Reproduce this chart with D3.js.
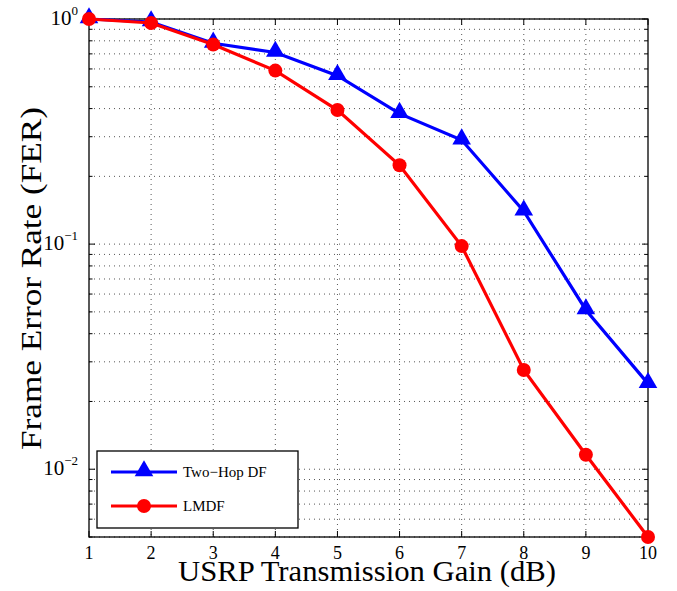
<!DOCTYPE html>
<html>
<head>
<meta charset="utf-8">
<script src="https://cdn.jsdelivr.net/npm/d3@7"></script>
<style>
  body { margin: 0; background: #fff; }
  svg { font-family: "Liberation Serif", "DejaVu Serif", serif; }
</style>
</head>
<body>
<svg id="chart" width="677" height="591"></svg>
<script>
// gain values in dB
const gains = [1, 2, 3, 4, 5, 6, 7, 8, 9, 10];
// frame error rate
const twoHopDF = [1.0, 0.97, 0.78, 0.71, 0.56, 0.38, 0.29, 0.140, 0.051, 0.024];
const lmdf = [1.0, 0.96, 0.77, 0.59, 0.394, 0.224, 0.098, 0.0276, 0.0116, 0.005];
const seriesNames = ["Two\u2212Hop DF", "LMDF"];
const yMajor = [0.01, 0.1, 1];
const yExp = ["\u22122", "\u22121", "0"];

const margin = {left: 89, top: 19, right: 29, bottom: 54};
const width = 677 - margin.left - margin.right;
const height = 591 - margin.top - margin.bottom;

const svg = d3.select("#chart");
const g = svg.append("g").attr("transform", `translate(${margin.left},${margin.top})`);

const x = d3.scaleLinear().domain([1, 10]).range([0, width]);
const y = d3.scaleLog().domain([0.005, 1]).range([height, 0]);

// minor log ticks
let minor = [];
for (let e = -3; e <= 0; e++) {
    for (let m = 1; m <= 9; m++) {
        const v = m * Math.pow(10, e);
        if (v >= 0.005 && v <= 1) minor.push(v);
    }
}

// grid
g.selectAll(".hgrid").data(minor).enter().append("line")
    .attr("x1", 0).attr("x2", width)
    .attr("y1", d => y(d)).attr("y2", d => y(d))
    .attr("stroke", "#555").attr("stroke-width", 1)
    .attr("stroke-dasharray", "1,4");
g.selectAll(".vgrid").data(gains.slice(1, -1)).enter().append("line")
    .attr("x1", d => x(d)).attr("x2", d => x(d))
    .attr("y1", 0).attr("y2", height)
    .attr("stroke", "#555").attr("stroke-width", 1)
    .attr("stroke-dasharray", "1,4");

// ticks on all four sides, pointing in
const tk = g.append("g").attr("stroke", "#000").attr("stroke-width", 1);
gains.forEach(d => {
    tk.append("line").attr("x1", x(d)).attr("x2", x(d)).attr("y1", height).attr("y2", height - 6);
    tk.append("line").attr("x1", x(d)).attr("x2", x(d)).attr("y1", 0).attr("y2", 6);
});
minor.forEach(d => {
    const len = yMajor.includes(d) ? 6 : 3.5;
    tk.append("line").attr("x1", 0).attr("x2", len).attr("y1", y(d)).attr("y2", y(d));
    tk.append("line").attr("x1", width).attr("x2", width - len).attr("y1", y(d)).attr("y2", y(d));
});

// frame
g.append("rect").attr("width", width).attr("height", height)
    .attr("fill", "none").attr("stroke", "#000").attr("stroke-width", 1.3);

// x tick labels
g.selectAll(".xl").data(gains).enter().append("text")
    .attr("x", d => x(d)).attr("y", height + 22)
    .attr("text-anchor", "middle").attr("font-size", 18)
    .text(d => d);

// y tick labels 10^n
yMajor.forEach((d, i) => {
    const t = g.append("text").attr("x", -11).attr("y", y(d) + 6)
        .attr("text-anchor", "end").attr("font-size", 21);
    t.append("tspan").text("10");
    t.append("tspan").attr("dy", -10).attr("font-size", 13).text(yExp[i]);
});

// axis titles (stretched to the width of the original's wider font)
svg.append("text").attr("x", 178).attr("y", 581)
    .attr("font-size", 29)
    .attr("textLength", 378).attr("lengthAdjust", "spacingAndGlyphs")
    .text("USRP Transmission Gain (dB)");
svg.append("text")
    .attr("transform", "translate(41,450) rotate(-90)")
    .attr("font-size", 29)
    .attr("textLength", 343).attr("lengthAdjust", "spacingAndGlyphs")
    .text("Frame Error Rate (FER)");

const line = d3.line().x((d, i) => x(gains[i])).y(d => y(d));
const tri = d3.symbol().type(d3.symbolTriangle).size(150);

// blue series
g.append("path").datum(twoHopDF).attr("d", line)
    .attr("fill", "none").attr("stroke", "#0000ff").attr("stroke-width", 3.2);
g.selectAll(".tri").data(twoHopDF).enter().append("path")
    .attr("d", tri)
    .attr("transform", (d, i) => `translate(${x(gains[i])},${y(d) - 1})`)
    .attr("fill", "#0000ff");

// red series
g.append("path").datum(lmdf).attr("d", line)
    .attr("fill", "none").attr("stroke", "#ff0000").attr("stroke-width", 3.2);
g.selectAll(".dot").data(lmdf).enter().append("circle")
    .attr("cx", (d, i) => x(gains[i])).attr("cy", d => y(d)).attr("r", 7)
    .attr("fill", "#ff0000");

// legend
const lg = svg.append("g").attr("transform", "translate(97,451)");
lg.append("rect").attr("width", 201).attr("height", 77)
    .attr("fill", "#fff").attr("stroke", "#000").attr("stroke-width", 1.3);
const colors = ["#0000ff", "#ff0000"];
seriesNames.forEach((name, i) => {
    const yy = 21 + i * 34;
    lg.append("line").attr("x1", 14).attr("x2", 80).attr("y1", yy).attr("y2", yy)
        .attr("stroke", colors[i]).attr("stroke-width", 3.2);
    if (i === 0) {
        lg.append("path").attr("d", tri).attr("transform", `translate(47,${yy - 1})`).attr("fill", colors[i]);
    } else {
        lg.append("circle").attr("cx", 47).attr("cy", yy).attr("r", 7).attr("fill", colors[i]);
    }
    lg.append("text").attr("x", 86).attr("y", yy + 5).attr("font-size", 15).text(name);
});
</script>
</body>
</html>
